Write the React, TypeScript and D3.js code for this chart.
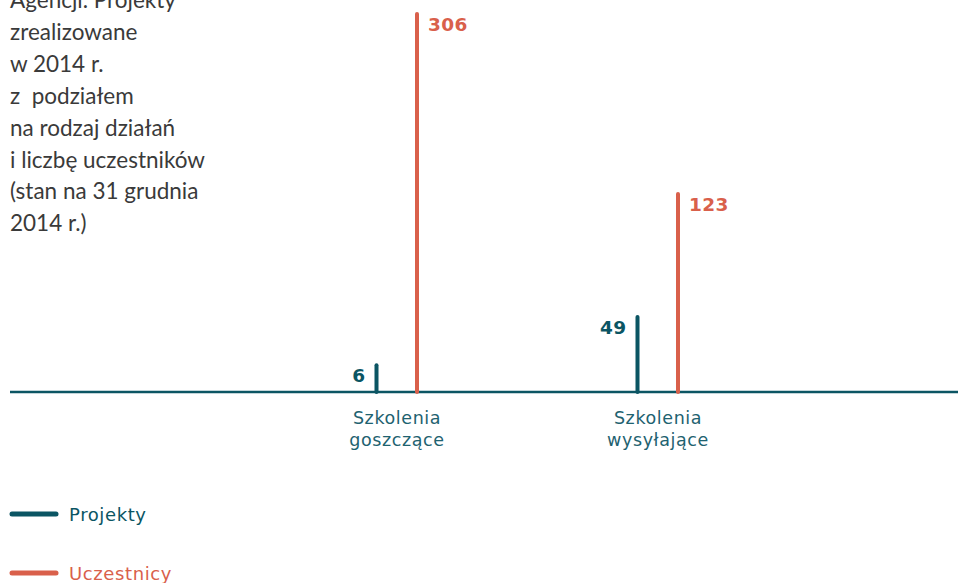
import * as d3 from 'd3';
import { useEffect, useRef } from 'react';

const categories = ['Szkolenia\ngoszczące', 'Szkolenia\nwysyłające'];
const projekty = [6, 49];
const uczestnicy = [306, 123];
const seriesNames = ['Projekty', 'Uczestnicy'];
const titleLines = [
  'Agencji. Projekty',
  'zrealizowane',
  'w 2014 r.',
  'z  podziałem',
  'na rodzaj działań',
  'i liczbę uczestników',
  '(stan na 31 grudnia',
  '2014 r.)',
];

const TEAL = '#0b5563';
const RED = '#d9604b';

export default function App() {
  const ref = useRef<SVGSVGElement | null>(null);
  useEffect(() => {
    if (!ref.current) return;
    const svg = d3.select(ref.current);
    svg.selectAll('*').remove();
    const width = 958;
    const height = 583;
    const baseY = 392;
    svg.attr('viewBox', `0 0 ${width} ${height}`);

    // title block
    svg
      .append('g')
      .selectAll('text')
      .data(titleLines)
      .join('text')
      .attr('x', 10)
      .attr('y', (_, i) => 8 + i * 31.9)
      .attr('fill', '#3a3a3a')
      .attr('font-family', 'Lato, sans-serif')
      .attr('font-size', 22.5)
      .style('white-space', 'pre')
      .text((d) => d);

    const x = d3.scalePoint<string>().domain(categories).range([397, 658]);
    // the original infographic does not draw the stems in proportion; each series gets its own scale
    const yProj = d3.scaleLinear().domain([0, 49]).range([20, 75]);
    const yUcz = d3.scaleLinear().domain([0, 306]).range([77, 378]);

    svg
      .append('line')
      .attr('x1', 10)
      .attr('x2', width)
      .attr('y1', baseY)
      .attr('y2', baseY)
      .attr('stroke', TEAL)
      .attr('stroke-width', 2.5);

    const series = [
      { values: projekty, scale: yProj, color: TEAL, dx: -20.5, anchor: 'end' },
      { values: uczestnicy, scale: yUcz, color: RED, dx: 20, anchor: 'start' },
    ];

    series.forEach((s) => {
      const g = svg.append('g');
      g.selectAll('line')
        .data(s.values)
        .join('line')
        .attr('x1', (_, i) => (x(categories[i]) || 0) + s.dx)
        .attr('x2', (_, i) => (x(categories[i]) || 0) + s.dx)
        .attr('y1', baseY)
        .attr('y2', (d) => baseY - s.scale(d))
        .attr('stroke', s.color)
        .attr('stroke-width', 4)
        .attr('stroke-linecap', 'round');
      g.selectAll('text')
        .data(s.values)
        .join('text')
        .attr('x', (_, i) => (x(categories[i]) || 0) + s.dx + (s.anchor === 'end' ? -11 : 11))
        .attr('y', (d) => baseY - s.scale(d) + 16.5)
        .attr('text-anchor', s.anchor)
        .attr('fill', s.color)
        .attr('font-family', '"DejaVu Sans", sans-serif')
        .attr('font-weight', 'bold')
        .attr('font-size', 18.5)
        .attr('letter-spacing', 0.4)
        .text((d) => String(d));
    });

    // category labels
    const cat = svg.append('g');
    categories.forEach((c) => {
      const t = cat
        .append('text')
        .attr('text-anchor', 'middle')
        .attr('fill', '#1e6270')
        .attr('font-family', '"DejaVu Sans", sans-serif')
        .attr('font-size', 17.5)
        .attr('letter-spacing', 0.6);
      c.split('\n').forEach((line, i) => {
        t.append('tspan')
          .attr('x', x(c) || 0)
          .attr('y', 424 + i * 22)
          .text(line);
      });
    });

    // legend
    const legend = svg.append('g');
    const colors = [TEAL, RED];
    seriesNames.forEach((name, i) => {
      const ly = 514 + i * 59;
      legend
        .append('line')
        .attr('x1', 12)
        .attr('x2', 56)
        .attr('y1', ly)
        .attr('y2', ly)
        .attr('stroke', colors[i])
        .attr('stroke-width', 5)
        .attr('stroke-linecap', 'round');
      legend
        .append('text')
        .attr('x', 69)
        .attr('y', ly + 7)
        .attr('fill', colors[i])
        .attr('font-family', '"DejaVu Sans", sans-serif')
        .attr('font-size', 18)
        .attr('letter-spacing', 0.6)
        .text(name);
    });
  }, []);

  return (
    <svg
      ref={ref}
      width={958}
      height={583}
      style={{ position: 'absolute', left: 0, top: 0, background: '#fff' }}
    />
  );
}
